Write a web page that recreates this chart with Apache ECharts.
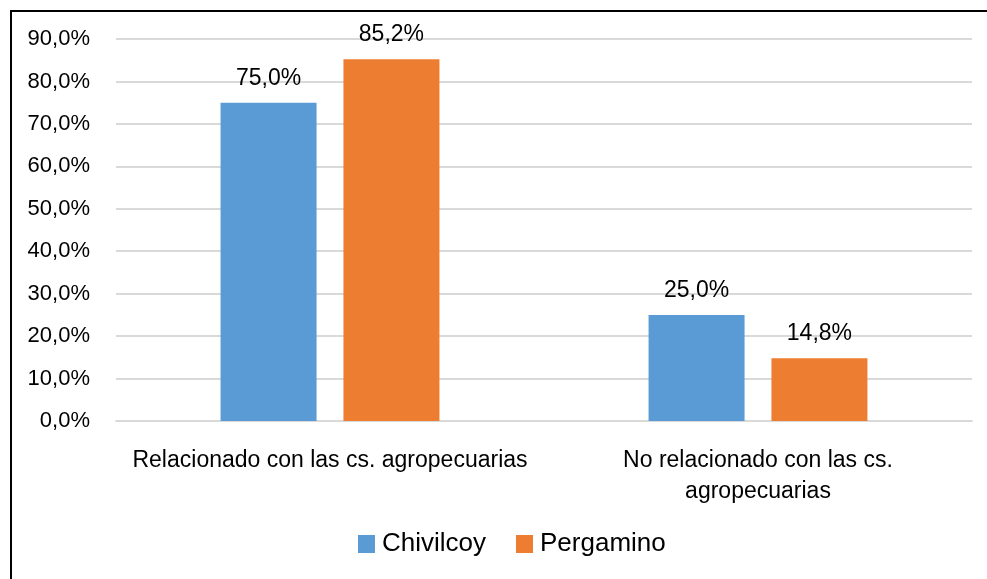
<!DOCTYPE html>
<html>
<head>
<meta charset="utf-8">
<script src="https://cdn.jsdelivr.net/npm/echarts@6/dist/echarts.min.js"></script>
<style>
    html, body { margin: 0; padding: 0; background: #fff; }
    #chart { width: 987px; height: 579px; }
</style>
</head>
<body>
<div id="chart"></div>
<script>
// categorias y valores (%)
var categories = ["Relacionado con las cs. agropecuarias", "No relacionado con las cs.\nagropecuarias"];
var chivilcoy = [75.0, 25.0];
var pergamino = [85.2, 14.8];
var seriesNames = ["Chivilcoy", "Pergamino"];

var fontFamily = "'Liberation Sans', 'DejaVu Sans', sans-serif";

function pct(v) {
    return Number(v).toFixed(1).replace(".", ",") + "%";
}

var myChart = echarts.init(document.getElementById("chart"));
var option = {
    animation: false,
    textStyle: { fontFamily: fontFamily },
    graphic: [{
        type: "rect",
        shape: { x: 11, y: 11, width: 1100, height: 1100 },
        style: { fill: "none", stroke: "#000", lineWidth: 2 },
        silent: true
    }],
    grid: { left: 116, right: 15, top: 39, bottom: 158 },
    legend: {
        bottom: 17,
        left: 353,
        itemWidth: 17,
        itemHeight: 18,
        itemGap: 30,
        icon: "rect",
        textStyle: { fontSize: 26, color: "#000", fontFamily: fontFamily, padding: [0, 0, 0, 2] },
        data: seriesNames
    },
    xAxis: {
        type: "category",
        data: categories,
        axisLine: { lineStyle: { color: "#d9d9d9", width: 2 } },
        axisTick: { show: false },
        axisLabel: { interval: 0, fontSize: 23, color: "#000", margin: 24, lineHeight: 31, fontFamily: fontFamily }
    },
    yAxis: {
        type: "value",
        min: 0,
        max: 90,
        interval: 10,
        axisLine: { show: false },
        axisTick: { show: false },
        splitLine: { lineStyle: { color: "#d9d9d9", width: 2 } },
        axisLabel: {
            fontSize: 22,
            color: "#000",
            margin: 26,
            fontFamily: fontFamily,
            formatter: function (v) { return pct(v); }
        }
    },
    series: [
        {
            name: seriesNames[0],
            type: "bar",
            data: chivilcoy,
            barWidth: 96,
            barGap: "28%",
            itemStyle: { color: "#5b9bd5" },
            label: {
                show: true,
                position: "top",
                distance: 13,
                fontSize: 23,
                color: "#000",
                fontFamily: fontFamily,
                formatter: function (p) { return pct(p.value); }
            }
        },
        {
            name: seriesNames[1],
            type: "bar",
            data: pergamino,
            barWidth: 96,
            itemStyle: { color: "#ed7d31" },
            label: {
                show: true,
                position: "top",
                distance: 13,
                fontSize: 23,
                color: "#000",
                fontFamily: fontFamily,
                formatter: function (p) { return pct(p.value); }
            }
        }
    ]
};
myChart.setOption(option);
</script>
</body>
</html>
